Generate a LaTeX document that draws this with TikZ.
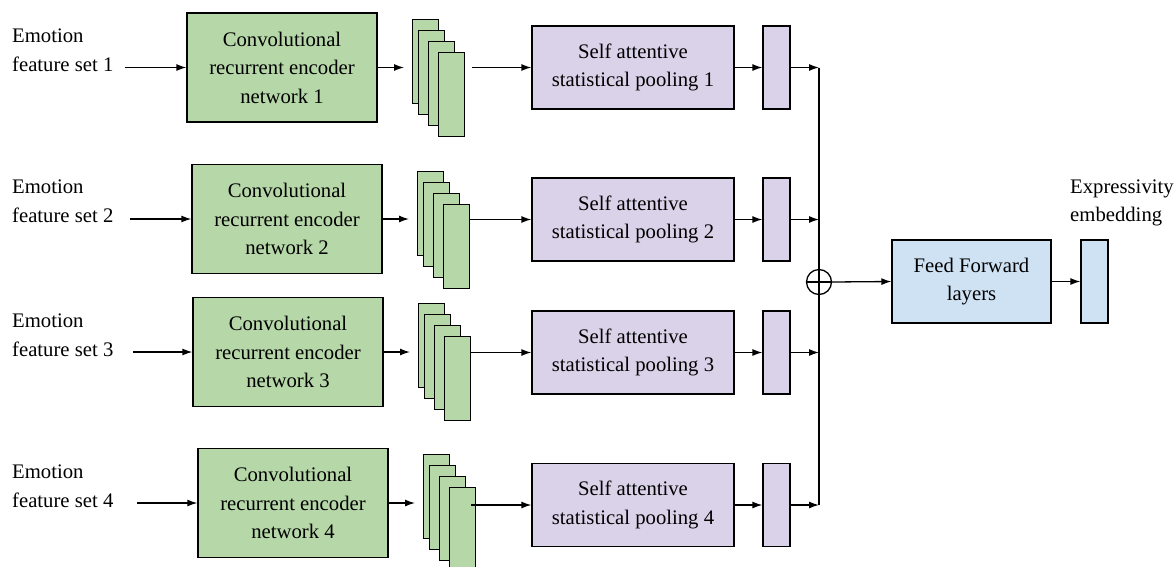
\documentclass[tikz,border=0pt]{standalone}
\usepackage{fontspec}
\setmainfont[Ligatures=TeX]{Liberation Serif}
\usetikzlibrary{arrows.meta,calc}
\definecolor{cgreen}{HTML}{B6D7A8}
\definecolor{cpurple}{HTML}{D9D2E9}
\definecolor{cblue}{HTML}{CFE2F3}
\begin{document}
\begin{tikzpicture}[x=1pt,y=-1pt,
 every node/.style={font=\rmfamily\fontsize{20.7}{28.5}\selectfont},
 box/.style={draw=black, line width=1.3pt, inner sep=0pt, align=center},
 conv/.style={box, fill=cgreen, minimum width=190pt, minimum height=109pt},
 pool/.style={box, fill=cpurple, minimum width=202pt, minimum height=83pt},
 vec/.style={box, fill=cpurple, minimum width=27pt, minimum height=83pt},
 fmap/.style={box, fill=cgreen, minimum width=26pt, minimum height=84pt, anchor=north west},
 arr/.style={-{Latex[length=10pt,width=7pt]}, line width=1.3pt},
 lbl/.style={anchor=west, align=left, inner sep=0pt}]
\useasboundingbox (0,0) rectangle (1175,566);
\clip (0,0) rectangle (1175,566);

% input labels
\node[lbl] (t1) at (12,50) {Emotion\\feature set 1};
\node[lbl] (t2) at (12,201) {Emotion\\feature set 2};
\node[lbl] (t3) at (12,335) {Emotion\\feature set 3};
\node[lbl] (t4) at (12,486) {Emotion\\feature set 4};

% encoders
\node[conv] (c1) at (282,67.5) {Convolutional\\recurrent encoder\\network 1};
\node[conv] (c2) at (287,219) {Convolutional\\recurrent encoder\\network 2};
\node[conv] (c3) at (288,352) {Convolutional\\recurrent encoder\\network 3};
\node[conv] (c4) at (293,503) {Convolutional\\recurrent encoder\\network 4};

\coordinate (in1) at (125,67.5);
\coordinate (in2) at (130,219);
\coordinate (in3) at (133,352);
\coordinate (in4) at (137,503);

% feature map stacks
\foreach \r/\x/\y in {1/412/19, 2/417/171, 3/418/303, 4/423/454}{
 \node[fmap] (s\r-a) at (\x,\y) {};
 \node[fmap] (s\r-b) at (\x+6,\y+11) {};
 \node[fmap] (s\r-c) at (\x+16,\y+22) {};
 \node[fmap] (s\r-d) at (\x+26,\y+33) {};
}

% pooling
\node[pool] (p1) at (633,67.5) {Self attentive\\statistical pooling 1};
\node[pool] (p2) at (633,219.5) {Self attentive\\statistical pooling 2};
\node[pool] (p3) at (633,352.5) {Self attentive\\statistical pooling 3};
\node[pool] (p4) at (633,505) {Self attentive\\statistical pooling 4};

\node[vec] (v1) at (776.5,67.5) {};
\node[vec] (v2) at (776.5,219.5) {};
\node[vec] (v3) at (776.5,352.5) {};
\node[vec] (v4) at (776.5,505) {};

% sum
\node[circle, draw, line width=1.3pt, minimum size=25pt, inner sep=0pt] (sum) at (819,282) {};
\draw[line width=1.3pt] (sum.west) -- (sum.east);
\draw[line width=1.3pt] (v1.east -| sum.center) -- (v4.east -| sum.center);

% feed forward
\node[box, fill=cblue, minimum width=159pt, minimum height=83pt] (ff) at (971.5,281.5) {Feed Forward\\layers};
\node[box, fill=cblue, minimum width=27pt, minimum height=83pt] (out) at (1094.5,281.5) {};
\node[lbl] (exp) at (1070,203) {Expressivity\\embedding};

% connectors
\foreach \r in {1,2,3,4}{
 \draw[arr] (in\r) -- (c\r.west);
 \draw[arr, shorten >=8pt] (c\r.east) -- (c\r.east -| s\r-a.west);
 \draw[arr] (p\r.east) -- (v\r.west);
 \draw[arr] (v\r.east) -- (v\r.east -| sum.center);
}
\draw[arr, shorten <=7pt] (p1.west -| s1-d.east) -- (p1.west);
\draw[arr] (p2.west -| s2-d.east) -- (p2.west);
\draw[arr] (p3.west -| s3-d.east) -- (p3.west);
\draw[arr] ($(p4.west -| s4-d.east)+(-5,0)$) -- (p4.west);
\draw[arr] (sum.east) -- (ff.west);
\draw[arr] (ff.east) -- (out.west);
\end{tikzpicture}
\end{document}
